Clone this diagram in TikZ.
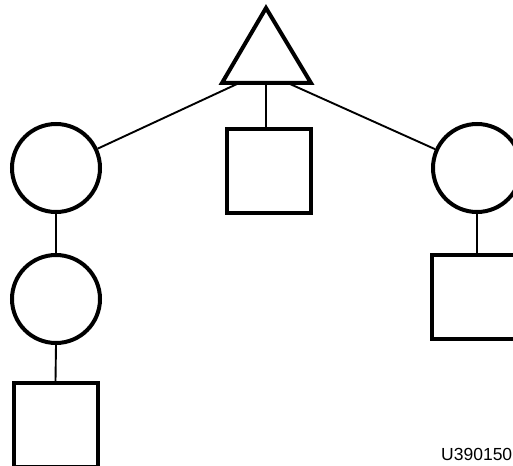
\documentclass[tikz,border=0pt]{standalone}
\usepackage{fontspec}
\newfontfamily\labelfont{Liberation Sans}
\begin{document}
\begin{tikzpicture}[x=1pt,y=-1pt,
  shapeline/.style={line width=4pt},
  link/.style={line width=1.9pt},
  circ/.style={circle,draw,shapeline,minimum size=88pt,inner sep=0pt},
  sqbox/.style={rectangle,draw,shapeline,minimum width=84pt,minimum height=84pt,inner sep=0pt},
  tag/.style={font=\labelfont\fontsize{17.5}{17.5}\selectfont,inner sep=0pt,anchor=base west}
]
\useasboundingbox (0,0) rectangle (513,465);
\clip (0,0) rectangle (513,465);
% triangle
\coordinate (apex) at (266,8);
\coordinate (bl) at (222,83);
\coordinate (br) at (311,83);
\draw[shapeline,line join=miter] (apex) -- (bl) -- (br) -- cycle;
\coordinate (tb) at (266,83);
\coordinate (tl) at (237,84);
\coordinate (tr) at (290,84);
% nodes
\node[sqbox] (sqc) at (268.5,171) {};
\node[circ] (c1) at (56,168) {};
\node[circ] (c2) at (56,299) {};
\node[sqbox] (sq1) at (55.5,425) {};
\node[circ] (c3) at (477,168) {};
\node[sqbox] (sq3) at (474,297) {};
% connectors
\draw[link] (tb) -- (tb |- sqc.north);
\draw[link] (tl) -- (c1);
\draw[link] (tr) -- (c3);
\draw[link] (c1.south) -- (c2.north);
\draw[link] (c2.south) -- (sq1.north);
\draw[link] (c3.south) -- (c3.south |- sq3.north);
% label
\node[tag] (lab) at (441,460) {U390150};
\end{tikzpicture}
\end{document}
